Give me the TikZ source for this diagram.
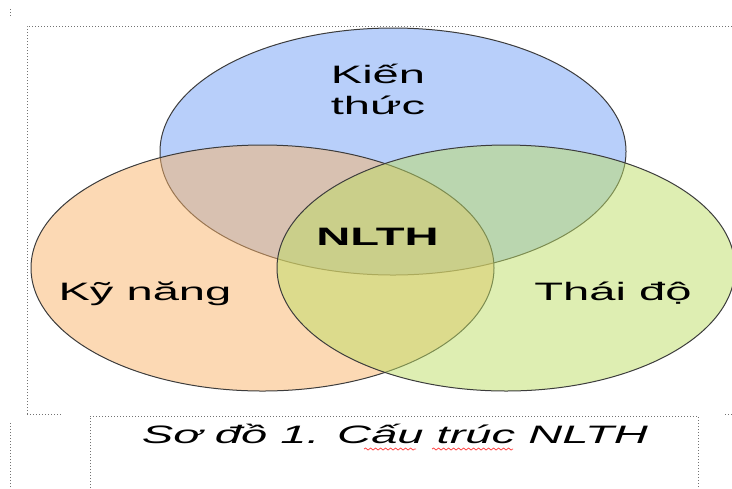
\documentclass[tikz,border=0pt]{standalone}
\usepackage{fontspec}
\setmainfont{Liberation Sans}
\newfontfamily\widesf[FakeStretch=1.87]{Liberation Sans}
\usetikzlibrary{shapes.geometric,decorations.pathmorphing}
\definecolor{ktblue}{RGB}{113,159,245}
\definecolor{knorange}{RGB}{249,179,105}
\definecolor{tdgreen}{RGB}{189,221,101}
\definecolor{outline}{RGB}{60,60,60}
\tikzset{
  vennset/.style={ellipse, draw=outline, line width=0.5pt, fill opacity=0.5, inner sep=0pt, minimum height=123pt},
  setlabel/.style={font=\widesf\fontsize{12.6}{15.5}\selectfont, align=center, inner sep=0pt},
  frameline/.style={densely dotted, line width=0.5pt, black!55},
  squiggle/.style={red!70, line width=0.4pt, decorate, decoration={snake, amplitude=0.5pt, segment length=2.5pt}}
}

\begin{document}
\begin{tikzpicture}[x=0.5pt, y=-0.5pt]
  \useasboundingbox (0,0) rectangle (732,488);
  % dotted frames
  \draw[frameline] (27,414) -- (27,26) -- (732,26);
  \draw[frameline] (27,414) -- (62,414);
  \draw[frameline] (725,414) -- (732,414);
  \draw[frameline] (10,9) -- (10,16);
  \draw[frameline] (10,423) -- (10,488);
  \draw[frameline] (90,488) -- (90,416) -- (698,416) -- (698,488);
  % the three sets
  \node[vennset, fill=ktblue, minimum width=233pt, minimum height=123.5pt] (kienthuc) at (393,151.5) {};
  \node[vennset, fill=knorange, minimum width=231.5pt] (kynang) at (262.5,268) {};
  \node[vennset, fill=tdgreen, minimum width=229pt] (thaido) at (506,268) {};
  % labels
  \node[setlabel] (lblkt) at (378,89) {Kiến\\thức};
  \node[setlabel, anchor=base] (lblkn) at (145,300) {Kỹ năng};
  \node[setlabel, anchor=base] (lbltd) at (613,300) {Thái độ};
  \node[setlabel, anchor=base, font=\widesf\bfseries\fontsize{12.6}{15.5}\selectfont] (nlth) at (377.5,245) {NLTH};
  \node[setlabel, anchor=base, font=\widesf\itshape\fontsize{12.6}{15.5}\selectfont] (caption) at (395,443) {Sơ đồ 1. Cấu trúc NLTH};
  \draw[squiggle] (364,449) -- (416,449);
  \draw[squiggle] (432,449) -- (513,449);
\end{tikzpicture}
\end{document}
